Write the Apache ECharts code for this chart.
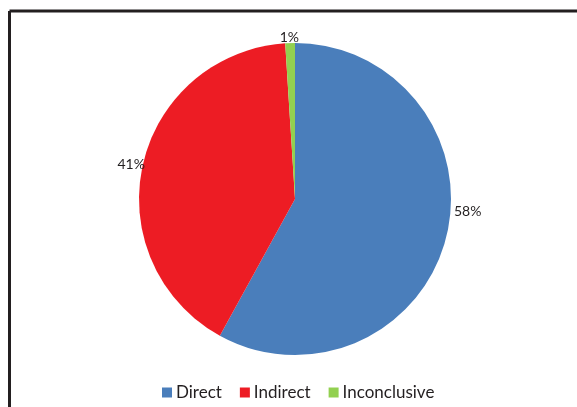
<!DOCTYPE html>
<html>
<head>
<meta charset="utf-8">
<script src="https://cdn.jsdelivr.net/npm/echarts@6/dist/echarts.min.js"></script>
<style>
  html, body { margin: 0; padding: 0; background: #fff; }
  #chart { width: 577px; height: 407px; }
</style>
</head>
<body>
<div id="chart"></div>
<script>
// Share of outcomes by type
const categories = ['Direct', 'Indirect', 'Inconclusive'];
const shares = [58, 41, 1];
const colors = ['#4a7ebb', '#ed1c24', '#92d050'];

const chart = echarts.init(document.getElementById('chart'), null, { renderer: 'canvas' });
const FONT = 'Lato, "Open Sans", sans-serif';

// small nudges so the percentage labels sit the way the original layout places them
const labelNudge = [[-1, -27], [11, 0], [14, -2]];

chart.setOption({
  animation: false,
  backgroundColor: '#ffffff',
  graphic: [
    // frame around the plot area (top and left edges visible)
    { type: 'line', shape: { x1: 9.5, y1: 11, x2: 577, y2: 11 }, style: { stroke: '#231f20', lineWidth: 3 } },
    { type: 'line', shape: { x1: 9.5, y1: 11, x2: 9.5, y2: 407 }, style: { stroke: '#231f20', lineWidth: 3 } }
  ],
  legend: {
    data: categories,
    bottom: 1,
    left: 157,
    icon: 'rect',
    itemWidth: 10,
    itemHeight: 10,
    itemGap: 18,
    textStyle: { fontFamily: FONT, fontSize: 17, color: '#231f20', padding: [0, 0, 0, -1] }
  },
  series: [{
    type: 'pie',
    center: [295, 199],
    radius: 156,
    startAngle: 90,
    clockwise: true,
    data: categories.map((name, i) => ({ name, value: shares[i], itemStyle: { color: colors[i] } })),
    label: {
      show: true,
      position: 'outside',
      formatter: '{d}%',
      fontFamily: FONT,
      fontSize: 14,
      color: '#231f20'
    },
    labelLine: { show: false, length: 4, length2: 0 },
    labelLayout: (params) => ({ dx: labelNudge[params.dataIndex][0], dy: labelNudge[params.dataIndex][1] }),
    emphasis: { disabled: true }
  }]
});
</script>
</body>
</html>
